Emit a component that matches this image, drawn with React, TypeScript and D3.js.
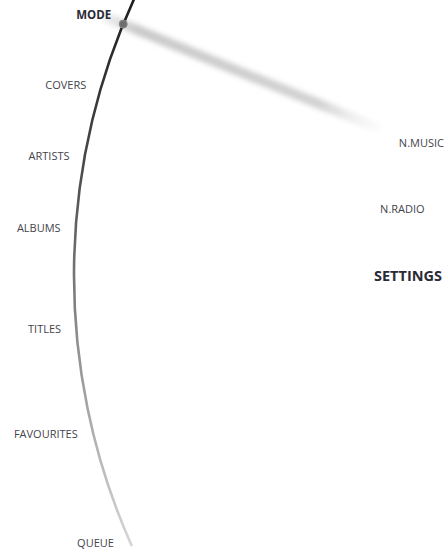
import React, { useEffect, useRef } from "react";
import * as d3 from "d3";

// menu ring (outer) – labels right-aligned outside the arc
const menuItems = ["MODE", "COVERS", "ARTISTS", "ALBUMS", "TITLES", "FAVOURITES", "QUEUE"];
const menuAngles = [-22.6, -16.3, -10.1, -4.0, 4.5, 13.5, 23.2]; // deg, 0 = pointing left
const activeItem = "MODE";

// sub ring (inner) – labels for the active item
const subItems = ["N.MUSIC", "N.RADIO", "SETTINGS"];
const subAngles = [-21.3, -10.5, 0];
const activeSub = "SETTINGS";

const markerAngle = -22.2;
const arcSpan = [-26, 24.1];

const W = 447;
const H = 550;

const App: React.FC = () => {
  const svgRef = useRef<SVGSVGElement>(null);

  useEffect(() => {
    if (!svgRef.current) return;
    const svg = d3.select(svgRef.current);
    svg.selectAll("*").remove();

    const cx = 738;
    const cy = 275;
    const R = 664;

    // degrees (0 = left, positive = down) -> radians in d3.arc convention
    const toArc = d3.scaleLinear().domain([0, 90]).range([1.5 * Math.PI, Math.PI]);
    const toRad = d3.scaleLinear().domain([0, 180]).range([0, Math.PI]);
    const pt = (deg: number, r: number): [number, number] => [
      cx - r * Math.cos(toRad(deg)),
      cy + r * Math.sin(toRad(deg)),
    ];

    const defs = svg.append("defs");

    // gradient lives in the arc's translated space
    const arcGrad = defs
      .append("linearGradient")
      .attr("id", "arcGrad")
      .attr("gradientUnits", "userSpaceOnUse")
      .attr("x1", 0)
      .attr("y1", -cy)
      .attr("x2", 0)
      .attr("y2", H - cy);
    arcGrad.append("stop").attr("offset", "0%").attr("stop-color", "#1e1e1e");
    arcGrad.append("stop").attr("offset", "30%").attr("stop-color", "#4a4a4a");
    arcGrad.append("stop").attr("offset", "60%").attr("stop-color", "#8a8a8a");
    arcGrad.append("stop").attr("offset", "100%").attr("stop-color", "#d8d8d8");

    const [bx1, by1] = pt(markerAngle, R + 22);
    const [bx2, by2] = pt(markerAngle, R - 278);
    const beamGrad = defs
      .append("linearGradient")
      .attr("id", "beamGrad")
      .attr("gradientUnits", "userSpaceOnUse")
      .attr("x1", bx1)
      .attr("y1", by1)
      .attr("x2", bx2)
      .attr("y2", by2);
    beamGrad.append("stop").attr("offset", "0%").attr("stop-color", "#c4c4c4").attr("stop-opacity", 0.2);
    beamGrad.append("stop").attr("offset", "12%").attr("stop-color", "#c4c4c4").attr("stop-opacity", 0.9);
    beamGrad.append("stop").attr("offset", "78%").attr("stop-color", "#cacaca").attr("stop-opacity", 0.85);
    beamGrad.append("stop").attr("offset", "100%").attr("stop-color", "#eeeeee").attr("stop-opacity", 0.2);

    const blur = defs.append("filter").attr("id", "blur").attr("x", "-20%").attr("y", "-20%").attr("width", "140%").attr("height", "140%");
    blur.append("feGaussianBlur").attr("stdDeviation", 2.4);

    // shadow beam from the marker towards the centre
    svg
      .append("line")
      .attr("x1", bx1)
      .attr("y1", by1)
      .attr("x2", bx2)
      .attr("y2", by2)
      .attr("stroke", "url(#beamGrad)")
      .attr("stroke-width", 10)
      .attr("filter", "url(#blur)");

    // the menu arc
    const arc = d3
      .arc<any>()
      .innerRadius(R - 1.3)
      .outerRadius(R + 1.3)
      .startAngle(toArc(arcSpan[1]))
      .endAngle(toArc(arcSpan[0]));
    svg
      .append("path")
      .attr("transform", `translate(${cx},${cy})`)
      .attr("d", arc({}) as string)
      .attr("fill", "url(#arcGrad)");

    // marker
    const [mx, my] = pt(markerAngle, R);
    svg
      .append("circle")
      .attr("cx", mx)
      .attr("cy", my)
      .attr("r", 4)
      .attr("fill", "#6e6e6e")
      .attr("stroke", "#8a8a8a")
      .attr("stroke-width", 1);

    const font = "'Open Sans', 'Segoe UI', sans-serif";

    svg
      .append("g")
      .selectAll("text")
      .data(menuItems)
      .enter()
      .append("text")
      .attr("x", (d, i) => pt(menuAngles[i], R + 15)[0])
      .attr("y", (d, i) => pt(menuAngles[i], R + 15)[1])
      .attr("text-anchor", "end")
      .attr("dominant-baseline", "central")
      .style("font-family", font)
      .style("font-size", (d) => (d === activeItem ? "11.5px" : "11px"))
      .style("font-weight", (d) => (d === activeItem ? 700 : 400))
      .attr("fill", (d) => (d === activeItem ? "#2a2a35" : "#44444c"))
      .text((d) => d);

    svg
      .append("g")
      .selectAll("text")
      .data(subItems)
      .enter()
      .append("text")
      .attr("x", (d, i) => pt(subAngles[i], 364)[0])
      .attr("y", (d, i) => pt(subAngles[i], 364)[1])
      .attr("text-anchor", "start")
      .attr("dominant-baseline", "central")
      .style("font-family", font)
      .style("font-size", (d) => (d === activeSub ? "14.5px" : "11px"))
      .style("font-weight", (d) => (d === activeSub ? 700 : 400))
      .attr("fill", (d) => (d === activeSub ? "#2a2a35" : "#44444c"))
      .text((d) => d);
  }, []);

  return (
    <svg
      ref={svgRef}
      width={W}
      height={H}
      style={{ position: "absolute", left: 0, top: 0, background: "#fff" }}
    ></svg>
  );
};

export default App;
